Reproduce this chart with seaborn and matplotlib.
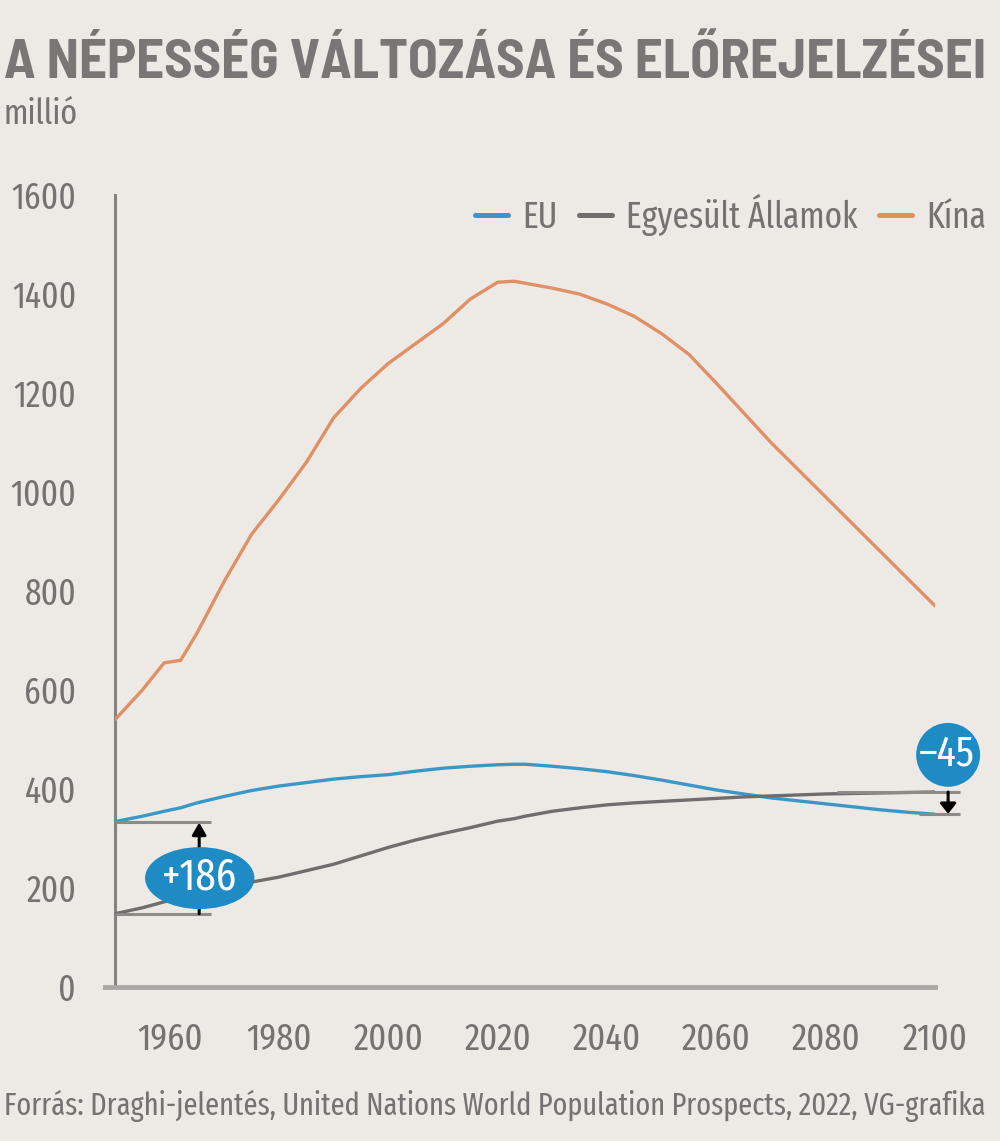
import numpy as np
import pandas as pd
import matplotlib
matplotlib.use("Agg")
import matplotlib.pyplot as plt
from matplotlib.patches import Ellipse
from matplotlib.lines import Line2D
import seaborn as sns

# ---------------- data ----------------
years = [1950, 1955, 1959, 1962, 1965, 1970, 1975, 1980, 1985, 1990, 1995,
         2000, 2005, 2010, 2015, 2020, 2023, 2025, 2030, 2035, 2040, 2045,
         2050, 2055, 2060, 2065, 2070, 2075, 2080, 2085, 2090, 2095, 2100]
china = [540, 600, 655, 660, 715, 820, 915, 985, 1060, 1150, 1210,
         1260, 1300, 1340, 1390, 1424, 1426, 1422, 1412, 1400, 1380, 1355,
         1320, 1278, 1220, 1160, 1100, 1045, 990, 935, 880, 825, 770]
eu = [334, 345, 355, 362, 372, 385, 397, 406, 413, 420, 425,
      429, 436, 442, 446, 449, 450, 450, 446, 441, 435, 427,
      418, 408, 398, 390, 382, 376, 370, 364, 358, 353, 349]
usa = [148, 160, 172, 180, 190, 203, 212, 222, 235, 248, 265,
       282, 297, 310, 322, 335, 340, 345, 355, 362, 368, 372,
       375, 378, 381, 384, 386, 388, 390, 391, 392, 393, 394]
series_names = ["EU", "Egyesült Államok", "Kína"]
yticks = [0, 200, 400, 600, 800, 1000, 1200, 1400, 1600]
xticks = [1960, 1980, 2000, 2020, 2040, 2060, 2080, 2100]
diff_labels = ["+186", "\u201345"]

title = "A NÉPESSÉG VÁLTOZÁSA ÉS ELŐREJELZÉSEI"
unit = "millió"
source = "Forrás: Draghi-jelentés, United Nations World Population Prospects, 2022, VG-grafika"

df = pd.concat([
    pd.DataFrame({"year": years, "value": eu, "country": series_names[0]}),
    pd.DataFrame({"year": years, "value": usa, "country": series_names[1]}),
    pd.DataFrame({"year": years, "value": china, "country": series_names[2]}),
])

# ---------------- style ----------------
BG = "#edeae5"
TXT = "#747372"
C_EU = "#3b98c6"
C_US = "#6f6e6c"
C_CN = "#e08f66"
C_BUB = "#1f8bc4"
palette = {series_names[0]: C_EU, series_names[1]: C_US, series_names[2]: C_CN}

sns.set_theme(style="white")
FONT = ["Fira Sans Extra Condensed", "PT Sans Narrow", "DejaVu Sans"]
TFONT = ["Barlow Semi Condensed", "Fira Sans Condensed", "DejaVu Sans"]
plt.rcParams["font.family"] = FONT

fig = plt.figure(figsize=(10, 11.41), dpi=100, facecolor=BG)
ax = fig.add_axes([0.115, 0.135, 0.82, 0.694], facecolor=BG)

sns.lineplot(data=df, x="year", y="value", hue="country", palette=palette,
             linewidth=2.4, legend=False, ax=ax, zorder=3)

ax.set_xlim(1950, 2100)
ax.set_ylim(0, 1600)
ax.set_xticks(xticks)
ax.set_yticks(yticks)
ax.set_xlabel("")
ax.set_ylabel("")

for s in ["top", "right"]:
    ax.spines[s].set_visible(False)
ax.spines["left"].set_color("#85837f")
ax.spines["left"].set_linewidth(2.2)
ax.spines["bottom"].set_color("#aaa8a4")
ax.spines["bottom"].set_linewidth(3.5)
ax.spines["bottom"].set_bounds(1948.2, 2100)

ax.tick_params(axis="y", direction="out", length=7, width=2.2, color="#8a8a88",
               labelsize=26, labelcolor=TXT, pad=21)
ax.tick_params(axis="x", direction="out", length=10, width=2.2, color="#aaa8a4",
               labelsize=27, labelcolor=TXT, pad=15)

# bracket lines
line_kw = dict(color="#8c8b88", linewidth=2.2, clip_on=False, zorder=4)
ax.hlines([eu[0], usa[0]], 1950, 1967.5, **line_kw)
ax.hlines(usa[-1], 2082, 2104.5, **line_kw)
ax.hlines(eu[-1], 2097, 2104.5, **line_kw)

ax.annotate("", xy=(1965.4, eu[0] - 2), xytext=(1965.4, usa[0]),
            arrowprops=dict(arrowstyle="-|>,head_length=0.6,head_width=0.35",
                            color="black", lw=2.2, shrinkA=0, shrinkB=0),
            annotation_clip=False, zorder=5)
ax.annotate("", xy=(2102.4, eu[-1] + 1), xytext=(2102.4, usa[-1]),
            arrowprops=dict(arrowstyle="-|>,head_length=0.5,head_width=0.4",
                            color="black", lw=2.2, shrinkA=0, shrinkB=0),
            annotation_clip=False, zorder=5)

# bubbles
e1 = Ellipse((1965.5, 220), 20, 125, facecolor=C_BUB, edgecolor="none",
             clip_on=False, zorder=6)
ax.add_patch(e1)
ax.text(1965.5, 222, diff_labels[0], ha="center", va="center", color="white",
        fontsize=32, zorder=7)
e2 = Ellipse((2102.4, 469), 11.7, 129, facecolor=C_BUB, edgecolor="none",
             clip_on=False, zorder=6)
ax.add_patch(e2)
ax.text(2102.2, 471, diff_labels[1], ha="center", va="center", color="white",
        fontsize=31, zorder=7, clip_on=False)

# legend
handles = [Line2D([0], [0], color=c, lw=3.6) for c in (C_EU, C_US, C_CN)]
leg = fig.legend(handles, series_names, loc="center right",
                 bbox_to_anchor=(0.986, 1 - 215 / 1141), ncol=3, frameon=False,
                 fontsize=26, handlelength=0.9, handletextpad=0.4,
                 columnspacing=0.6, borderpad=0, borderaxespad=0)
for t in leg.get_texts():
    t.set_color(TXT)

# texts
t_title = fig.text(0.004, 0.9317, title, fontsize=38, fontweight="bold",
                   color="#787776", va="baseline", ha="left", family=TFONT)
t_unit = fig.text(0.004, 0.891, unit, fontsize=25, color=TXT, va="baseline", ha="left")
t_src = fig.text(0.004, 0.0228, source, fontsize=21, color=TXT, va="baseline", ha="left")

# fit widths of title and source to the reference
fig.canvas.draw()
r = fig.canvas.get_renderer()
for t, target in ((t_title, 983), (t_src, 980)):
    w = t.get_window_extent(r).width
    t.set_fontsize(t.get_fontsize() * target / w)

fig.savefig("out.png", dpi=100, facecolor=BG)
